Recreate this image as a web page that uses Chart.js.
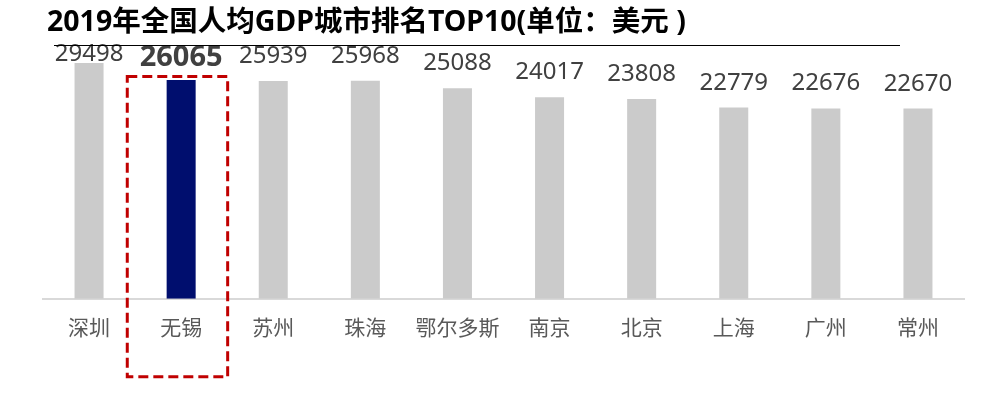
<!DOCTYPE html>
<html>
<head>
<meta charset="utf-8">
<script src="https://cdn.jsdelivr.net/npm/chart.js@4/dist/chart.umd.min.js"></script>
<style>
  html, body { margin: 0; padding: 0; background: #fff; }
  #wrap { width: 989px; height: 393px; position: relative; }
</style>
</head>
<body>
<div id="wrap"><canvas id="gdpChart" width="989" height="393"></canvas></div>
<script>
// chart data
const cities = ['深圳', '无锡', '苏州', '珠海', '鄂尔多斯', '南京', '北京', '上海', '广州', '常州'];
const gdpPerCapita = [29498, 26065, 25939, 25968, 25088, 24017, 23808, 22779, 22676, 22670];
const highlightCity = '无锡';
const chartTitle = '2019年全国人均GDP城市排名TOP10(单位：美元 )';

const latinFont = '"Noto Sans", "Noto Sans CJK SC", sans-serif';
const cjkFont = '"Noto Sans CJK SC", "Noto Sans", sans-serif';

const barColors = cities.map(c => c === highlightCity ? '#000e6e' : '#cbcbcb');

// title + rule under it
const titlePlugin = {
    id: 'titleLine',
    afterDraw(chart) {
        const ctx = chart.ctx;
        ctx.save();
        ctx.font = 'bold 28.5px ' + latinFont;
        ctx.fillStyle = '#000';
        ctx.textAlign = 'left';
        ctx.textBaseline = 'alphabetic';
        ctx.fillText(chartTitle, 47, 31);
        ctx.strokeStyle = '#000';
        ctx.lineWidth = 1;
        ctx.beginPath();
        ctx.moveTo(54, 45.5);
        ctx.lineTo(900, 45.5);
        ctx.stroke();
        ctx.restore();
    }
};

// value labels above the bars
const valueLabels = {
    id: 'valueLabels',
    afterDatasetsDraw(chart) {
        const ctx = chart.ctx;
        const meta = chart.getDatasetMeta(0);
        ctx.save();
        ctx.textAlign = 'center';
        ctx.textBaseline = 'alphabetic';
        meta.data.forEach((bar, i) => {
            const hl = cities[i] === highlightCity;
            ctx.font = (hl ? 'bold 29px ' : '24px ') + latinFont;
            const txt = String(gdpPerCapita[i]);
            const y = hl ? bar.y - 14 : Math.max(bar.y - 18, 61);
            const w = ctx.measureText(txt).width;
            ctx.fillStyle = '#fff';
            ctx.fillRect(bar.x - w / 2 - 2, y - 19, w + 4, 21);
            ctx.fillStyle = '#404040';
            ctx.fillText(txt, bar.x, y);
        });
        ctx.restore();
    }
};

// red dashed box around the highlighted city
const highlightBox = {
    id: 'highlightBox',
    afterDraw(chart) {
        const ctx = chart.ctx;
        const idx = cities.indexOf(highlightCity);
        const bar = chart.getDatasetMeta(0).data[idx];
        const step = chart.scales.x.getPixelForValue(1) - chart.scales.x.getPixelForValue(0);
        const top = bar.y - 3.5;
        const bottom = chart.chartArea.bottom + 78;
        ctx.save();
        ctx.strokeStyle = '#c00000';
        ctx.lineWidth = 3;
        ctx.setLineDash([10, 5]);
        ctx.strokeRect(bar.x - step * 0.585, top, step * 1.09, bottom - top);
        ctx.restore();
    }
};

const ctx = document.getElementById('gdpChart').getContext('2d');
const gdpChart = new Chart(ctx, {
    type: 'bar',
    data: {
        labels: cities,
        datasets: [{
            data: gdpPerCapita,
            backgroundColor: barColors,
            barPercentage: 1,
            categoryPercentage: 0.315,
        }],
    },
    options: {
        responsive: false,
        animation: false,
        layout: {
            padding: { left: 43, right: 25, top: 47, bottom: 37 }
        },
        plugins: {
            legend: { display: false },
            tooltip: { enabled: false },
            title: { display: false },
        },
        scales: {
            x: {
                grid: { display: false, drawTicks: false },
                border: { display: true, color: '#d9d9d9', width: 2 },
                ticks: {
                    color: '#595959',
                    padding: 16,
                    font: { family: cjkFont, size: 21 },
                },
            },
            y: {
                display: false,
                min: 0,
                max: 30000,
            },
        },
    },
    plugins: [titlePlugin, valueLabels, highlightBox],
});
</script>
</body>
</html>
